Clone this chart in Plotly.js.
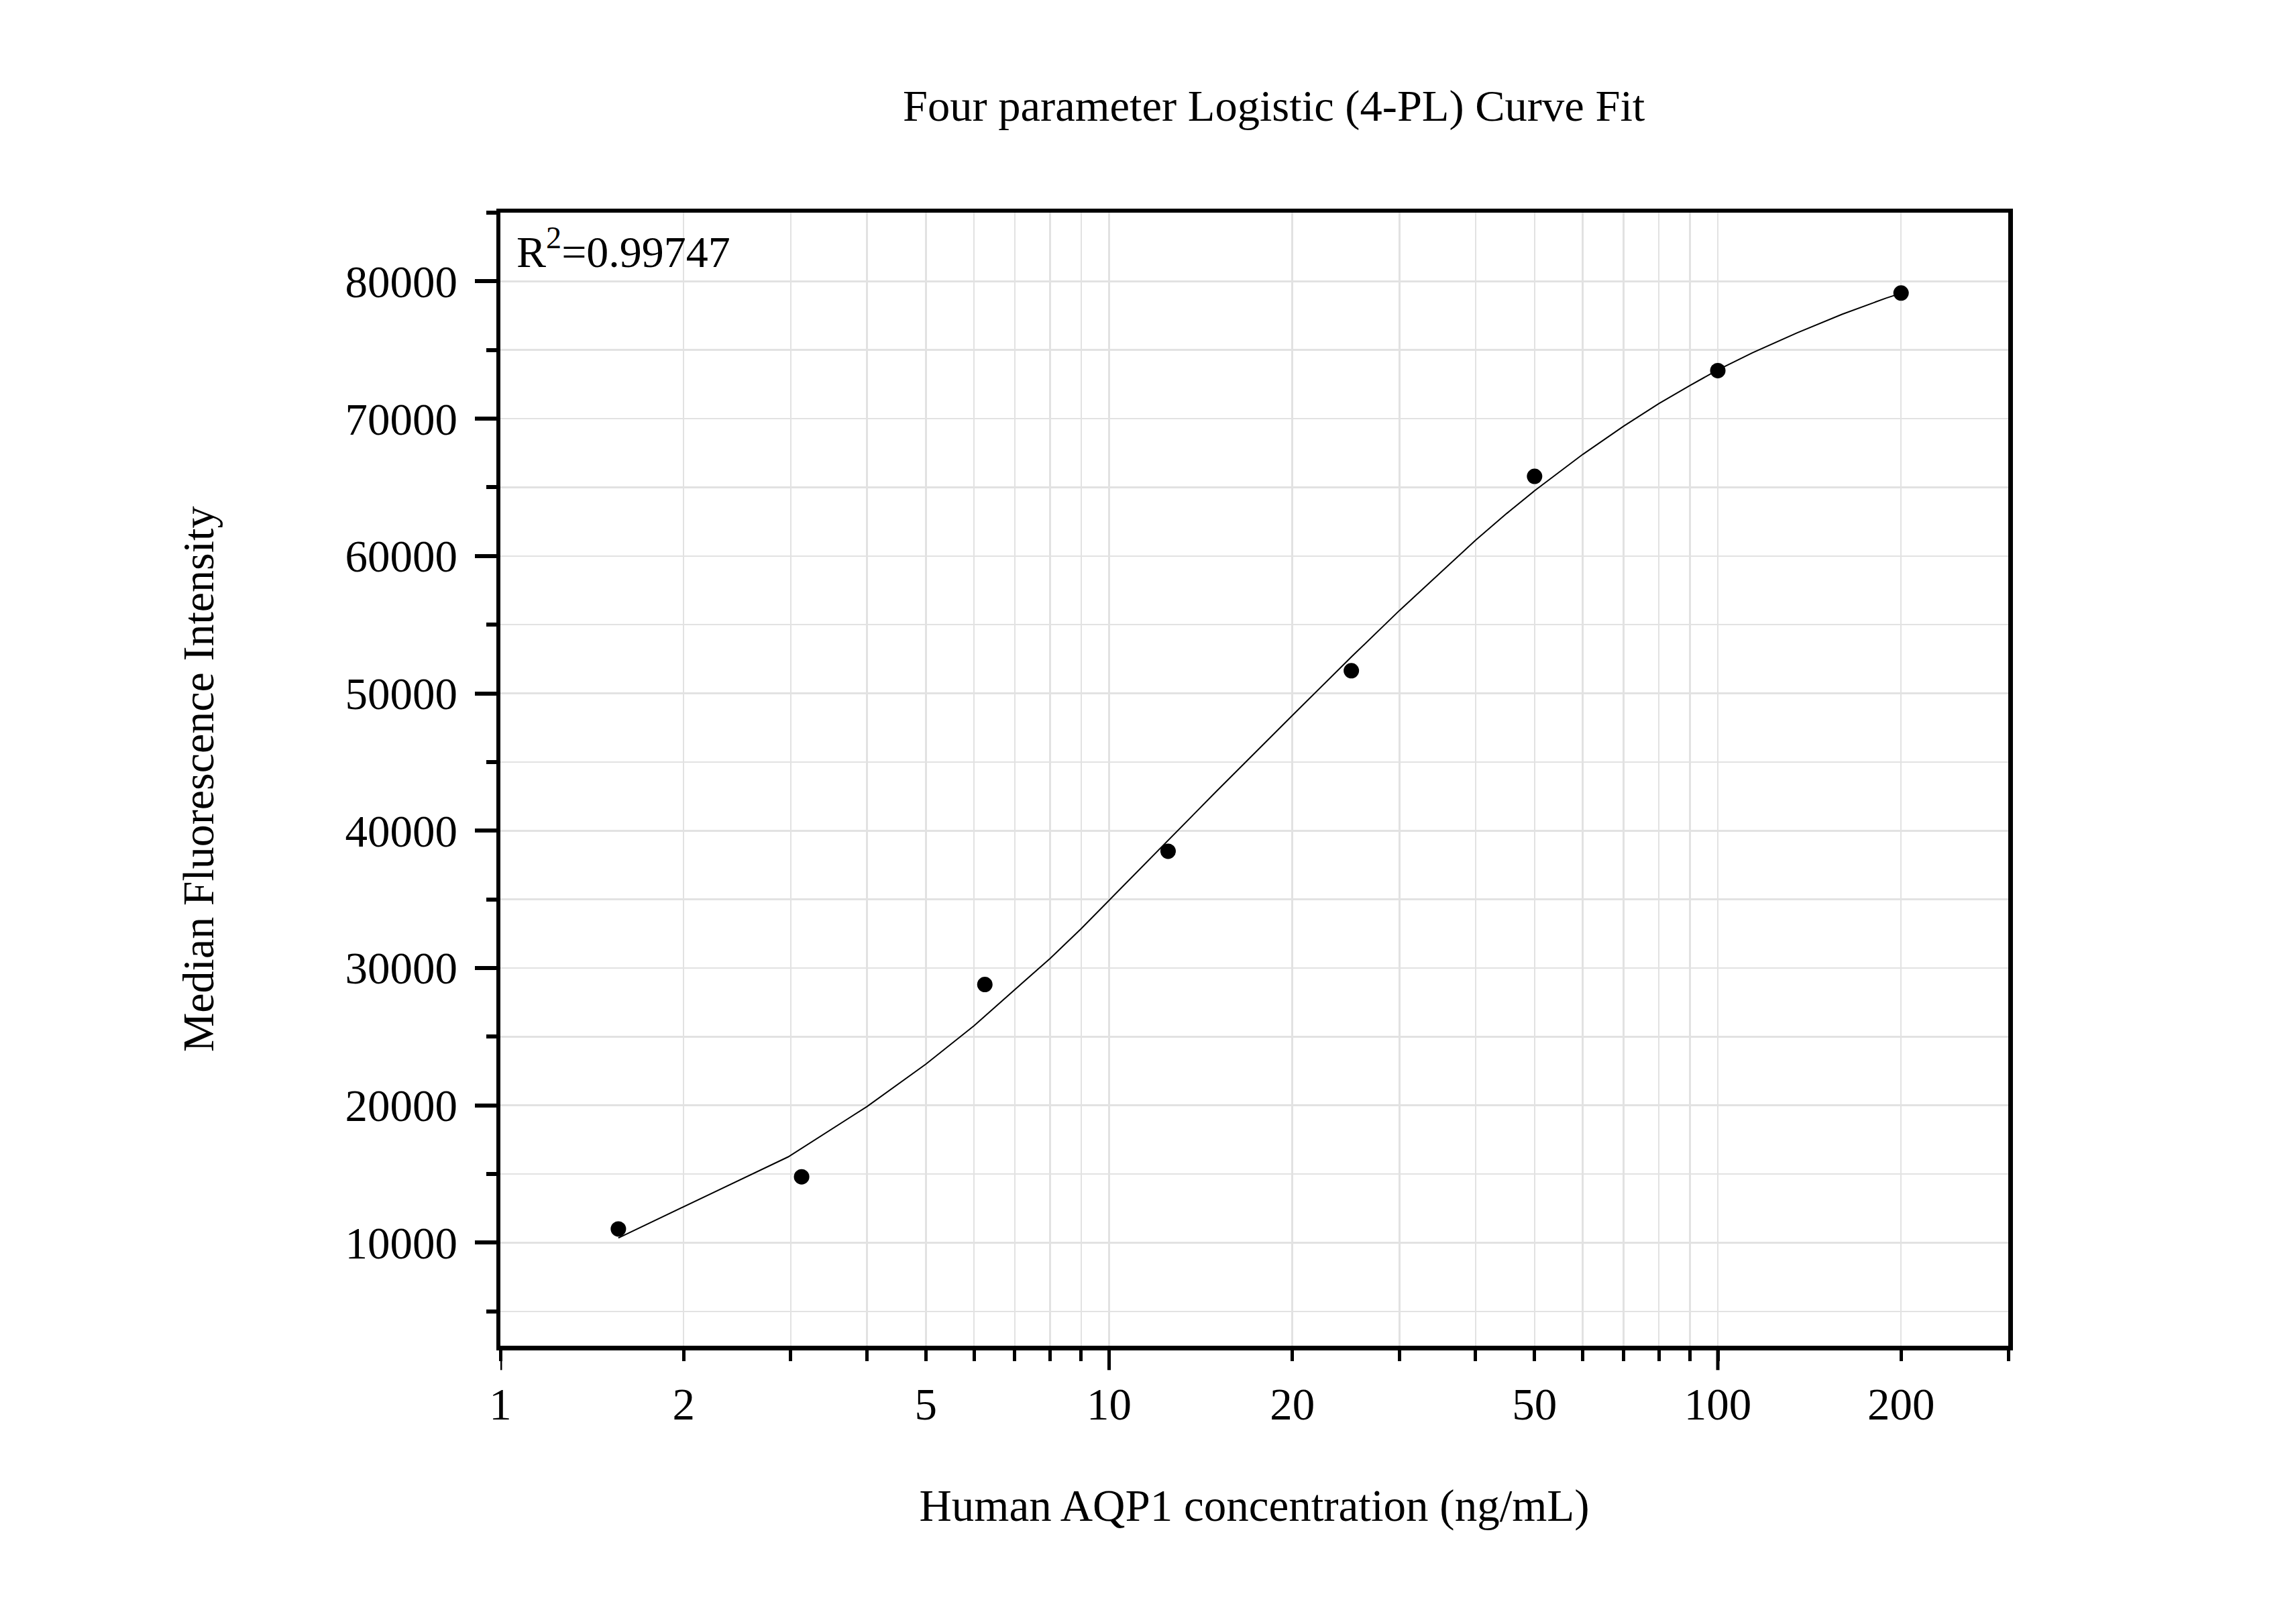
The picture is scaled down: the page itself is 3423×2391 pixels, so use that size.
<!DOCTYPE html>
<html>
<head>
<meta charset="utf-8">
<script src="https://cdn.plot.ly/plotly-3.0.1.min.js"></script>
<style>
  html, body { margin: 0; padding: 0; background: #fff; }
  #chart { width: 3423px; height: 2391px; }
</style>
</head>
<body>
<div id="chart"></div>
<script>
  // measured standards
  var concentration = [1.5625, 3.125, 6.25, 12.5, 25, 50, 100, 200];
  var mfi = [11000, 14800, 28800, 38500, 51650, 65800, 73500, 79150];

  // fitted 4-PL curve
  var fitX = [1.5625, 2.97, 4, 5, 6, 7, 8, 9, 10, 12.5, 15, 20, 22.9, 25, 30, 35, 40, 45, 50, 60, 70, 80, 90, 100, 114, 135, 160, 189, 200];
  var fitY = [10350, 16250, 19910, 23000, 25800, 28400, 30700, 32870, 34930, 39280, 42860, 48390, 51000, 52650, 56040, 58800, 61150, 63100, 64750, 67400, 69450, 71100, 72420, 73550, 74800, 76250, 77600, 78780, 79130];

  var xLabelVals = [1, 2, 5, 10, 20, 50, 100, 200];
  var xMinorVals = [3, 4, 6, 7, 8, 9, 30, 40, 60, 70, 80, 90, 300];
  var xDecadeVals = [1, 10, 100];
  var yTickVals = [10000, 20000, 30000, 40000, 50000, 60000, 70000, 80000];

  var titleText = 'Four parameter Logistic (4-PL) Curve Fit';
  var xTitle = 'Human AQP1 concentration (ng/mL)';
  var yTitle = 'Median Fluorescence Intensity';
  var r2Text = 'R<sup>2</sup>=0.99747';

  var serif = 'Liberation Serif, Times New Roman, serif';
  var xRange = [0, Math.log10(300)];
  var gridC = '#e2e2e2';

  var traces = [
    {
      x: fitX, y: fitY, type: 'scatter', mode: 'lines',
      line: { color: '#000', width: 2 },
      hoverinfo: 'skip', showlegend: false
    },
    {
      x: concentration, y: mfi, type: 'scatter', mode: 'markers',
      marker: { color: '#000', size: 23 },
      showlegend: false
    }
  ];

  // longer ticks at each decade, hanging below the x axis
  var decadeTicks = xDecadeVals.map(function (v) {
    return {
      type: 'line', xref: 'x', yref: 'paper',
      x0: v, x1: v, y0: 0, y1: -0.0215,
      line: { color: '#000', width: 5 }
    };
  });

  var layout = {
    width: 3423, height: 2391,
    paper_bgcolor: '#fff', plot_bgcolor: '#fff',
    margin: { l: 746, r: 429, t: 317, b: 385, pad: 0 },
    font: { family: serif, size: 66, color: '#000' },
    title: {
      text: titleText, font: { family: serif, size: 66.5, color: '#000' },
      xref: 'paper', x: 0.513, xanchor: 'center',
      yref: 'container', y: 1 - 157 / 2391, yanchor: 'middle'
    },
    xaxis: {
      type: 'log', range: xRange, autorange: false,
      tickmode: 'array', tickvals: xLabelVals, ticktext: xLabelVals.map(String),
      ticks: 'outside', ticklen: 16, tickwidth: 5, tickcolor: '#000',
      ticklabelstandoff: 7,
      tickfont: { family: serif, size: 67, color: '#000' },
      showgrid: true, gridcolor: gridC, gridwidth: 2.5,
      minor: {
        tickmode: 'array', tickvals: xMinorVals,
        ticks: 'outside', ticklen: 16, tickwidth: 5, tickcolor: '#000',
        showgrid: true, gridcolor: gridC, gridwidth: 2.5
      },
      showline: true, linecolor: '#000', linewidth: 6.5, mirror: true,
      zeroline: false,
      title: { text: xTitle, font: { family: serif, size: 67, color: '#000' }, standoff: 93 },
      automargin: false
    },
    yaxis: {
      range: [2500, 85000], autorange: false,
      tickmode: 'array', tickvals: yTickVals, tickformat: 'd',
      ticks: 'outside', ticklen: 32, tickwidth: 6, tickcolor: '#000',
      ticklabelstandoff: 12,
      tickfont: { family: serif, size: 67, color: '#000' },
      showgrid: true, gridcolor: gridC, gridwidth: 2.5,
      minor: {
        dtick: 5000, tick0: 0,
        ticks: 'outside', ticklen: 15, tickwidth: 6, tickcolor: '#000',
        showgrid: true, gridcolor: gridC, gridwidth: 2.5
      },
      showline: true, linecolor: '#000', linewidth: 6.5, mirror: true,
      zeroline: false,
      title: { text: yTitle, font: { family: serif, size: 66, color: '#000' }, standoff: 177 },
      automargin: false
    },
    shapes: decadeTicks,
    annotations: [
      {
        text: r2Text, xref: 'paper', yref: 'paper',
        x: 0.010, y: 0.9685, xanchor: 'left', yanchor: 'middle',
        showarrow: false, font: { family: serif, size: 66, color: '#000' }
      }
    ]
  };

  Plotly.newPlot('chart', traces, layout, { staticPlot: true, displayModeBar: false });
</script>
</body>
</html>
